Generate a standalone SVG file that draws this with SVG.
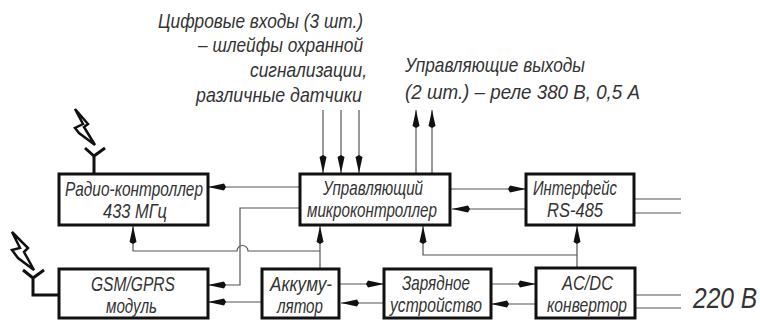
<svg xmlns="http://www.w3.org/2000/svg" width="760" height="320" viewBox="0 0 760 320">
<defs>
<marker id="a" markerUnits="userSpaceOnUse" markerWidth="20" markerHeight="10" refX="19" refY="5" orient="auto"><path d="M1 5L3 1.500L19 5L3 8.500Z" fill="#111"/></marker>
</defs>
<style>
.b{fill:#fff;stroke:#111;stroke-width:3}
.c{fill:none;stroke:#555;stroke-width:1.200}
.t,.l{font-family:"Liberation Sans","DejaVu Sans",sans-serif;font-style:italic;fill:#333;font-size:21px}
.k{fill:none;stroke:#111;stroke-width:3}
.z{fill:#fff;stroke:#111;stroke-width:2.500;stroke-linejoin:miter}
</style>
<rect width="760" height="320" fill="#fff"/>
<g id="connectors">
<path class="c" d="M300 187H208" marker-end="url(#a)"/>
<path class="c" d="M300 208H240V285H208" marker-end="url(#a)"/>
<path class="c" d="M320 251H248A5.500 5.500 0 0 0 237 251H133V226" marker-end="url(#a)"/>
<path class="c" d="M262 302H208" marker-end="url(#a)"/>
<path class="c" d="M320 269V226" marker-end="url(#a)"/>
<path class="c" d="M339 284H384" marker-end="url(#a)"/>
<path class="c" d="M384 303H341" marker-end="url(#a)"/>
<path class="c" d="M491 284H536" marker-end="url(#a)"/>
<path class="c" d="M536 304H491" marker-end="url(#a)"/>
<path class="c" d="M450 189H526" marker-end="url(#a)"/>
<path class="c" d="M526 209H452" marker-end="url(#a)"/>
<path class="c" d="M577 255H423V226" marker-end="url(#a)"/>
<path class="c" d="M577 268V226" marker-end="url(#a)"/>
<path class="c" d="M323 110V173" marker-end="url(#a)"/>
<path class="c" d="M341 110V173" marker-end="url(#a)"/>
<path class="c" d="M359 110V173" marker-end="url(#a)"/>
<path class="c" d="M416 174V110" marker-end="url(#a)"/>
<path class="c" d="M432 174V110" marker-end="url(#a)"/>
<path class="c" d="M634 199H681M634 213H681M636 295H681M636 308H681"/>
</g>
<g id="radio"><rect class="b" x="59" y="174" width="149" height="51"/><text class="t" x="65" y="196" textLength="138" lengthAdjust="spacingAndGlyphs">Радио-контроллер</text><text class="t" x="103" y="218" textLength="64" lengthAdjust="spacingAndGlyphs">433 МГц</text>
<path class="k" d="M94 173V155M85 148L94 156L105 148"/><path class="z" d="M75 109L88 124L84 127L95 145L79 133L75 128L83 124Z"/></g>
<g id="gsm"><rect class="b" x="59" y="269" width="149" height="49"/><text class="t" x="91" y="291" textLength="84" lengthAdjust="spacingAndGlyphs">GSM/GPRS</text><text class="t" x="106" y="313" textLength="51" lengthAdjust="spacingAndGlyphs">модуль</text>
<path class="k" d="M59 295H33V277M23 270L33 278L44 270"/><path class="z" d="M12 232L28 248L24 252L34 270L18 258L12 250L20 248Z"/></g>
<g id="mcu"><rect class="b" x="300" y="174" width="150" height="51"/><text class="t" x="323" y="195" textLength="100" lengthAdjust="spacingAndGlyphs">Управляющий</text><text class="t" x="307" y="217" textLength="130" lengthAdjust="spacingAndGlyphs">микроконтроллер</text></g>
<g id="rs485"><rect class="b" x="526" y="174" width="108" height="51"/><text class="t" x="533" y="195" textLength="84" lengthAdjust="spacingAndGlyphs">Интерфейс</text><text class="t" x="547" y="217" textLength="56" lengthAdjust="spacingAndGlyphs">RS-485</text></g>
<g id="akk"><rect class="b" x="262" y="269" width="77" height="49"/><text class="t" x="270" y="291" textLength="62" lengthAdjust="spacingAndGlyphs">Аккуму-</text><text class="t" x="277" y="313" textLength="46" lengthAdjust="spacingAndGlyphs">лятор</text></g>
<g id="zar"><rect class="b" x="384" y="269" width="107" height="49"/><text class="t" x="402" y="290" textLength="68" lengthAdjust="spacingAndGlyphs">Зарядное</text><text class="t" x="390" y="312" textLength="92" lengthAdjust="spacingAndGlyphs">устройство</text></g>
<g id="acdc"><rect class="b" x="536" y="268" width="99" height="50"/><text class="t" x="562" y="290" textLength="51" lengthAdjust="spacingAndGlyphs">AC/DC</text><text class="t" x="547" y="312" textLength="80" lengthAdjust="spacingAndGlyphs">конвертор</text></g>
<g id="labels">
<text class="l" x="158" y="28" textLength="205" lengthAdjust="spacingAndGlyphs">Цифровые входы (3 шт.)</text>
<text class="l" x="198" y="52" textLength="165" lengthAdjust="spacingAndGlyphs">– шлейфы охранной</text>
<text class="l" x="250" y="77" textLength="117" lengthAdjust="spacingAndGlyphs">сигнализации,</text>
<text class="l" x="196" y="102" textLength="166" lengthAdjust="spacingAndGlyphs">различные датчики</text>
<text class="l" x="405" y="72" textLength="180" lengthAdjust="spacingAndGlyphs">Управляющие выходы</text>
<text class="l" x="405" y="99" textLength="235" lengthAdjust="spacingAndGlyphs">(2 шт.) – реле 380 В, 0,5 А</text>
<text class="l" transform="translate(693 308) scale(.82 1)" x="0" y="0" style="font-size:30px">220 В</text>
</g>
</svg>
